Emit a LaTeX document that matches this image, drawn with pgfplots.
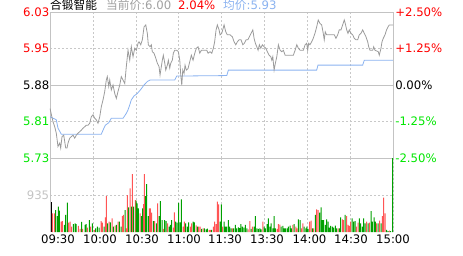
\documentclass[border=0pt]{standalone}
\usepackage{fontspec}
\setmainfont{DejaVu Sans}
\newfontfamily\cjk{Noto Sans CJK SC}
\usepackage{pgfplots}
\pgfplotsset{compat=1.18}
\definecolor{upred}{RGB}{255,0,0}
\definecolor{dngreen}{RGB}{0,230,0}
\definecolor{barred}{RGB}{255,85,85}
\definecolor{bargreen}{RGB}{0,160,0}
\definecolor{pricegray}{RGB}{155,155,155}
\definecolor{titlegray}{RGB}{160,160,160}
\definecolor{avgblue}{RGB}{138,178,240}
\definecolor{bordergray}{RGB}{195,195,195}
\definecolor{gridgray}{RGB}{200,200,200}
\definecolor{lightlab}{RGB}{195,195,195}
\begin{document}
\begin{tikzpicture}[x=1pt,y=1pt,font=\fontsize{11.7}{13}\selectfont]
\path[use as bounding box] (-50pt,-97pt) rectangle (413pt,158pt);
% price panel
\begin{axis}[
  at={(0pt,0pt)}, anchor=south west, scale only axis, width=343pt, height=146pt,
  xmin=0, xmax=240, ymin=5.733, ymax=6.027,
  axis line style={bordergray},
  major tick length=0pt,
  xtick={0,30,...,240}, xticklabels={},
  ytick={5.733,5.8065,5.88,5.9535,6.027},
  yticklabels={\textcolor{dngreen}{5.73},\textcolor{dngreen}{5.81},5.88,\textcolor{upred}{5.95},\textcolor{upred}{6.03}},
  yticklabel style={anchor=east, inner sep=0.6pt},
  /pgf/number format/assume math mode=true,
  xmajorgrids, ymajorgrids,
  major grid style={gridgray, dash pattern=on 2pt off 2pt},
  extra y ticks={5.88}, extra y tick labels={},
  extra y tick style={ymajorgrids=true, major grid style={draw=bordergray, solid}},
  clip=true,
]
\addplot[avgblue, line width=0.8pt] coordinates {
(0,5.816)(4.4,5.810)(5.6,5.793)(7.9,5.781)(35.9,5.781)(37.1,5.789)(38.7,5.799)(41.1,5.804)(42.9,5.813)(51.1,5.813)(52.3,5.818)(53.4,5.823)(54.6,5.830)(55.8,5.840)(56.9,5.850)(58.8,5.858)(61.1,5.863)(63.5,5.871)(65.8,5.880)(68.1,5.887)(70,5.890)(87.3,5.890)(88.7,5.898)(123.7,5.899)(124.8,5.910)(186.6,5.910)(187.5,5.920)(218.8,5.920)(219.9,5.930)(240,5.930)
};
\addplot[pricegray, line width=0.8pt] coordinates {
(0,5.833)(1,5.820)(2.1,5.806)(3.3,5.796)(4.4,5.783)(5.6,5.756)(6.8,5.763)(7.5,5.753)(8.4,5.776)(9.6,5.779)(10.3,5.766)(11,5.753)(11.9,5.753)(12.6,5.763)(13.8,5.773)(14.9,5.776)(16.1,5.779)(17.3,5.773)(18.4,5.779)(19.6,5.783)(20.8,5.786)(21.9,5.789)(23.1,5.793)(24.3,5.796)(25.4,5.799)(26.6,5.799)(27.8,5.803)(28.9,5.816)(30.1,5.820)(31.3,5.813)(32.4,5.810)(33.6,5.803)(34.8,5.816)(35.9,5.836)(37.1,5.850)(38.3,5.867)(39.4,5.890)(40.1,5.897)(41.1,5.877)(41.8,5.890)(42.9,5.870)(44.1,5.880)(45.3,5.863)(46.4,5.853)(47.6,5.867)(48.8,5.880)(49.9,5.897)(51.1,5.890)(52.3,5.883)(53.4,5.917)(54.6,5.950)(55.8,5.930)(56.9,5.957)(58.1,5.937)(59.3,5.954)
(60.4,5.950)(61.6,5.964)(62.3,5.967)(63.5,5.961)(64.6,5.971)(65.8,5.997)(67,6.001)(68.1,5.984)(68.8,5.961)(70,5.957)(70.9,5.961)(71.6,5.947)(72.8,5.944)(74,5.934)(75.1,5.924)(76.3,5.917)(77,5.900)(77.9,5.917)(78.6,5.930)(79.3,5.940)(80.3,5.924)(81,5.910)(82.1,5.920)(82.8,5.930)(83.8,5.914)(84.5,5.924)(85.6,5.930)(86.3,5.944)(87.3,5.950)(88.7,5.950)(89.8,5.947)(90.8,5.930)(91.5,5.900)(92.2,5.880)(92.9,5.910)(93.8,5.903)(94.5,5.920)(95.4,5.910)(96.6,5.913)(97.8,5.927)(98.9,5.940)(100.1,5.930)(101.3,5.944)(102.4,5.954)(103.6,5.957)(104.8,5.944)(105.9,5.950)(107.8,5.950)(109.7,5.950)(110.6,5.944)(112,5.947)(113.2,5.944)(114.3,5.954)(115.2,5.967)(116.2,5.991)(117.1,6.001)(118.3,5.991)(119,5.981)
(120.2,5.984)(121.8,6.001)(123,5.987)(124.1,5.981)(126,5.981)(127.6,5.977)(128.8,5.967)(130,5.961)(131.1,5.967)(132.3,5.971)(133.7,5.971)(134.9,5.961)(136,5.964)(137.2,5.971)(138.4,5.971)(139.5,5.977)(140.7,5.984)(141.9,5.991)(142.8,5.974)(143.7,5.964)(144.7,5.957)(145.6,5.950)(146.5,5.961)(147.5,5.954)(148.6,5.961)(149.8,5.957)(151,5.954)(152.1,5.947)(153.3,5.940)(154.5,5.937)(155.2,5.930)(155.9,5.937)(156.8,5.910)(157.7,5.924)(158.7,5.937)(159.8,5.961)(161,5.950)(162.2,5.947)(163.3,5.950)(164.5,5.940)(166.8,5.940)(169.2,5.940)(170.3,5.940)(171.5,5.950)(172.7,5.961)(173.8,5.954)(175,5.950)(177.3,5.950)(178.5,5.961)
(179.6,5.964)(180.3,5.950)(181,5.964)(181.9,5.961)(183.1,5.967)(184.2,5.974)(185.4,5.984)(186.6,5.997)(187.7,6.011)(188.9,6.004)(190.1,6.001)(191.2,5.984)(191.9,5.971)(192.6,5.987)(193.6,5.981)(198.9,5.981)(200.1,5.974)(201.3,5.981)(202.4,5.991)(203.6,5.991)(204.8,6.001)(205.9,6.011)(206.6,6.004)(207.6,5.991)(208.5,5.984)(209.4,5.991)(210.6,5.984)(211.8,5.981)(212.9,5.974)(214.1,5.971)(215.3,5.971)(216.4,5.981)(217.6,5.984)(218.8,5.991)(219.9,5.984)(221.1,5.977)(222.3,5.967)(223,5.957)(223.9,5.950)(225.8,5.950)(226.5,5.957)(227.4,5.950)(229.7,5.947)(230.4,5.940)(231.6,5.954)(232.3,5.967)(233.2,5.974)(234.4,5.981)(235.5,5.991)(236.5,5.997)(237.4,6.001)(240,6.001)
};
\end{axis}
% percent labels on the right
\begin{axis}[
  at={(0pt,0pt)}, anchor=south west, scale only axis, width=343pt, height=146pt,
  xmin=0, xmax=240, ymin=-2.5, ymax=2.5,
  axis line style={draw=none},
  major tick length=0pt,
  xtick=\empty,
  ytick={-2.5,-1.25,0,1.25,2.5},
  yticklabels={\textcolor{dngreen}{-2.50\%},\textcolor{dngreen}{-1.25\%},0.00\%,\textcolor{upred}{+1.25\%},\textcolor{upred}{+2.50\%}},
  yticklabel pos=right,
  yticklabel style={anchor=west, inner sep=0.6pt, xshift=1.5pt},
  /pgf/number format/assume math mode=true,
]
\end{axis}
% volume panel
\begin{axis}[
  at={(0pt,-74pt)}, anchor=south west, scale only axis, width=343pt, height=74pt,
  xmin=0, xmax=240, ymin=0, ymax=1870,
  axis line style={draw=none},
  major tick length=0pt,
  xtick={0,30,...,240}, xticklabels={},
  extra x ticks={5.6,35,64.4,93.8,122.5,151.9,181.6,210.6,240},
  extra x tick labels={09:30,10:00,10:30,11:00,11:30,13:30,14:00,14:30,15:00},
  extra x tick style={xmajorgrids=false, major tick length=0pt},
  xticklabel style={anchor=north, inner sep=0pt, yshift=-3pt},
  ytick={935}, yticklabels={\textcolor{lightlab}{935}},
  yticklabel style={anchor=east, inner sep=0.6pt},
  /pgf/number format/assume math mode=true,
  xmajorgrids, ymajorgrids,
  major grid style={gridgray, dash pattern=on 2pt off 2pt},
  clip=true,
]
\draw[bordergray] (rel axis cs:0,0) -- (rel axis cs:0,1);
\draw[bordergray] (rel axis cs:1,0) -- (rel axis cs:1,1);
\addplot[ybar, bar width=1pt, bar shift=0pt, fill=black, draw=none] coordinates {(0.7,766)};
\addplot[ybar, bar width=1pt, bar shift=0pt, fill=barred, draw=none] coordinates {
(1.6,471)(3.0,471)(7.7,261)(8.6,278)(13.1,236)(14.0,261)(15.2,135)(19.8,152)(21.0,76)(22.8,76)(26.1,109)(28.4,135)(31.0,51)(35.7,278)(36.6,236)(38.7,370)(39.4,909)(41.3,261)(43.4,345)(45.5,160)(47.6,261)(50.6,404)(51.3,430)(53.2,93)(54.1,935)(56.0,1103)(57.6,1465)(59.7,808)(63.0,471)(65.5,707)(66.0,1465)(69.5,598)(70.2,598)(71.1,488)(73.2,278)(75.3,724)(79.3,76)(82.3,219)(86.3,109)(87.0,497)(93.1,135)(94.0,261)(98.2,135)(99.1,219)(102.2,168)(104.0,135)(105.0,135)(107.1,93)(111.3,51)(112.2,51)(114.3,135)(115.2,261)(116.2,202)(117.1,766)(118.0,699)(120.8,135)(127.6,93)
(138.6,67)(139.8,278)(141.6,135)(148.9,261)(158.9,76)(159.8,202)(160.8,185)(169.9,177)(172.0,135)(172.9,93)(175.9,93)(176.9,219)(181.7,261)(182.7,286)(184.5,93)(186.6,572)(187.6,556)(201.6,93)(204.6,320)(205.5,303)(207.6,404)(208.6,177)(209.5,152)(210.4,261)(214.4,135)(215.6,236)(221.6,261)(223.5,236)(228.6,219)(230.7,286)(232.6,404)(233.5,867)(234.5,471)(237.5,34)
};
\addplot[ybar, bar width=1pt, bar shift=0pt, fill=bargreen, draw=none] coordinates {
(4.0,556)(5.1,404)(5.8,640)(6.5,539)(10.0,177)(11.0,430)(12.1,741)(16.3,202)(17.5,219)(18.2,202)(22.1,253)(24.5,177)(25.2,202)(27.5,303)(29.6,219)(31.9,93)(33.1,135)(34.3,109)(37.8,135)(40.3,219)(42.2,244)(44.3,135)(46.4,177)(48.5,261)(49.7,135)(52.5,556)(55.0,623)(56.9,640)(58.5,640)(60.2,791)(60.9,724)(61.8,598)(63.9,404)(64.8,598)(66.9,909)(67.6,1212)(68.8,404)(72.3,278)(74.4,219)(76.3,404)(77.2,783)(78.4,303)(80.2,303)(81.2,278)(83.3,135)(84.2,177)(85.1,303)(87.9,261)(88.9,236)(90.0,733)(91.0,244)(91.9,825)(94.9,219)(96.1,135)(97.0,244)(100.1,261)(101.0,244)(103.1,135)(106.1,76)(108.0,93)(109.2,67)(110.1,84)(113.1,51)(119.0,261)(119.9,699)(121.8,261)(122.7,135)(123.6,135)(124.8,303)(125.7,135)(126.7,93)(128.5,93)(129.7,177)(130.6,93)(131.8,118)(132.7,101)
(133.5,202)(134.6,135)(135.6,109)(136.7,177)(137.7,93)(140.7,76)(142.8,135)(143.7,404)(144.7,93)(145.8,76)(146.8,93)(147.7,67)(149.8,135)(150.7,93)(151.9,202)(152.8,345)(153.8,135)(154.7,219)(155.9,93)(156.8,404)(157.7,93)(161.7,135)(162.9,152)(163.8,93)(164.7,93)(165.9,93)(166.8,135)(168.0,160)(168.9,93)(170.8,202)(173.8,320)(175.0,303)(177.8,135)(179.0,93)(179.7,135)(180.6,76)(183.6,93)(185.7,430)(188.7,488)(189.7,623)(190.6,303)(191.5,303)(192.7,177)(193.6,320)(194.6,261)(195.5,109)(196.4,152)(197.6,135)(198.5,109)(199.7,160)(200.6,93)(202.5,93)(203.4,370)(206.5,430)(211.4,345)(212.5,261)(213.5,278)(216.5,345)(217.4,219)(218.6,135)(219.5,345)(220.5,219)(222.6,219)(224.7,530)(225.6,261)(226.8,370)(227.7,261)(229.6,219)(231.7,219)(235.6,51)(236.6,25)(238.4,25)(239.8,1870)
};
\end{axis}
% title
\node[anchor=base west, inner sep=0pt] at (0pt,148.5pt) {\cjk 合锻智能};
\node[anchor=base west, inner sep=0pt, text=titlegray] at (56pt,148.5pt) {{\cjk 当前价}:6.00};
\node[anchor=base west, inner sep=0pt, text=upred] at (128pt,148.5pt) {2.04\%};
\node[anchor=base west, inner sep=0pt, text=avgblue] at (173pt,148.5pt) {{\cjk 均价}:5.93};
\end{tikzpicture}
\end{document}
